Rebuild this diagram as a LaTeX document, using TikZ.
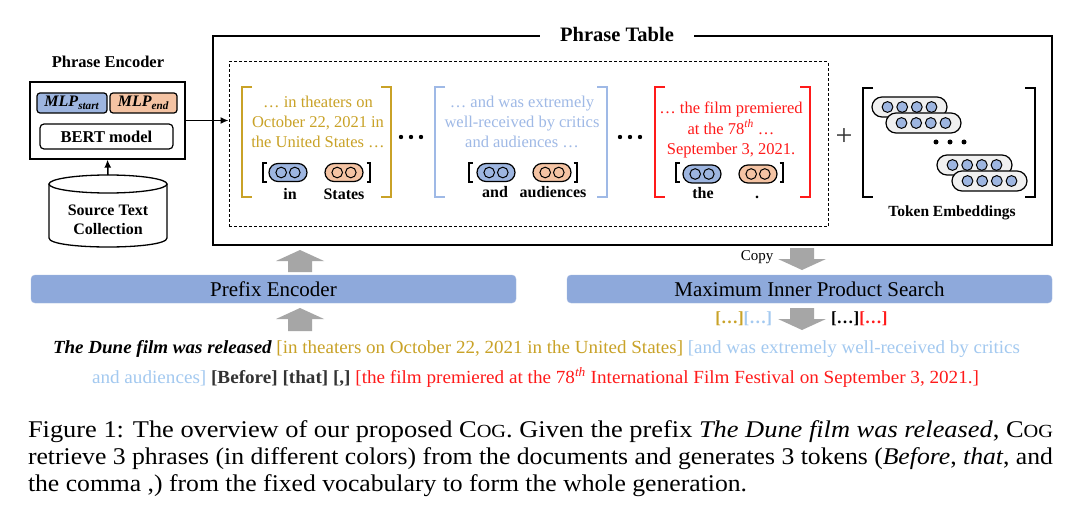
\documentclass[tikz,border=0pt]{standalone}
\usepackage{fontspec}
\setmainfont{Liberation Serif}
\usepackage{graphicx}
\usetikzlibrary{arrows.meta}
\definecolor{gold}{HTML}{C9A227}
\definecolor{lblue}{HTML}{A3C9F0}
\definecolor{bblue}{HTML}{9FB9E6}
\definecolor{barblue}{HTML}{8EA9DB}
\definecolor{pillblue}{HTML}{9DB5E0}
\definecolor{pillor}{HTML}{F4C3A3}
\definecolor{arrgray}{HTML}{A6A6A6}
\definecolor{tred}{HTML}{FF1A1A}
\definecolor{dgray}{HTML}{333333}
\newcommand\myfs[1]{\fontsize{#1}{#1}\selectfont}
\newcommand\smallcog{C{\fontsize{18.5}{18.5}\selectfont OG}}
\tikzset{
  txt/.style={inner sep=0pt, outer sep=0pt},
  blk/.style={draw=black, line width=1.3pt},
  rbox/.style={draw=black, line width=1.2pt, rounded corners=3pt, inner sep=0pt},
  pill/.style={draw=black, line width=1.2pt, rounded corners=9pt, minimum width=38pt, minimum height=18pt, inner sep=0pt},
  tpill/.style={draw=black, line width=1.2pt, fill=gray!12, rounded corners=10pt, minimum width=75pt, minimum height=20pt, inner sep=0pt},
  dotc/.style={draw=black, line width=1pt},
  bigbr/.style={line width=2.6pt},
  smbr/.style={line width=1.2pt, draw=black},
  arr/.style={-{Latex[length=8pt,width=7pt]}, line width=1.5pt},
  bar/.style={fill=barblue, draw=barblue!80!white, rounded corners=4pt, minimum width=485pt, minimum height=28pt, inner sep=0pt, font=\myfs{21}},
  gray arrow/.style={fill=arrgray, draw=none},
}
\newcommand\phrasepill[4]{% name, x, y, color
  \node[pill, fill=#4] (#1) at (#2,#3) {};
  \draw[dotc, fill=#4] (#2-6.8,#3) circle[radius=5.3];
  \draw[dotc, fill=#4] (#2+6.8,#3) circle[radius=5.3];
}
\newcommand\tokpill[3]{% name, x, y
  \node[tpill] (#1) at (#2,#3) {};
  \foreach \k in {-22,-7.3,7.3,22}{\draw[dotc, fill=pillblue] (#2+\k,#3) circle[radius=5.4];}
}
\newcommand\bigbracket[5]{% xl, xr, top, bottom, colour
  \draw[bigbr, draw=#5] (#1+10,#3) -- (#1,#3) -- (#1,#4) -- (#1+10,#4);
  \draw[bigbr, draw=#5] (#2-10,#3) -- (#2,#3) -- (#2,#4) -- (#2-10,#4);
}
\newcommand\smallbracket[2]{% xl, xr
  \draw[smbr] (#1+3.5,163) -- (#1,163) -- (#1,182) -- (#1+3.5,182);
  \draw[smbr] (#2-3.5,163) -- (#2,163) -- (#2,182) -- (#2-3.5,182);
}
\newcommand\grayup[3]{% x, tip y, base y
  \fill[gray arrow] (#1-12,#3) -- (#1-12,#2+11) -- (#1-24,#2+11) -- (#1,#2) -- (#1+24,#2+11) -- (#1+12,#2+11) -- (#1+12,#3) -- cycle;
}
\newcommand\graydown[3]{% x, top y, tip y
  \fill[gray arrow] (#1-12,#2) -- (#1-12,#3-11) -- (#1-24,#3-11) -- (#1,#3) -- (#1+24,#3-11) -- (#1+12,#3-11) -- (#1+12,#2) -- cycle;
}
\begin{document}
\begin{tikzpicture}[x=1pt, y=-1pt]
\useasboundingbox (0,0) rectangle (1080,516);
\fill[white] (0,0) rectangle (1080,516);

% ---------- Phrase encoder ----------
\node[txt, font=\myfs{16.5}\bfseries] (petitle) at (108,62) {Phrase Encoder};
\node[blk, minimum width=155pt, minimum height=77pt, inner sep=0pt] (pe) at (107.5,120.5) {};
\node[rbox, fill=pillblue, minimum width=70pt, minimum height=20pt] (mlps) at (72,103)
  {\myfs{16}\textbf{\textit{MLP}}\textsubscript{\textbf{\textit{start}}}};
\node[rbox, fill=pillor, minimum width=67pt, minimum height=20pt] (mlpe) at (143.5,103)
  {\myfs{16}\textbf{\textit{MLP}}\textsubscript{\textbf{\textit{end}}}};
\node[rbox, rounded corners=4pt, fill=white, minimum width=133pt, minimum height=25pt, font=\myfs{16.5}\bfseries] (bert) at (106.5,136.5) {BERT model};

% cylinder
\draw[blk, fill=white] (49,184) -- (49,238) .. controls (49,250) and (167,250) .. (167,238) -- (167,184);
\draw[blk] (108,184) ellipse [x radius=59, y radius=9];
\node[txt, align=center, font=\fontsize{16}{19.5}\selectfont\bfseries] (src) at (108,220) {Source Text\\Collection};
\coordinate (srctop) at (108,175);
\draw[arr] (srctop) -- (pe.south);

% ---------- Phrase table ----------
\node[draw=black, line width=1.5pt, minimum width=839pt, minimum height=209pt, inner sep=0pt] (pt) at (632.5,140.5) {};
\node[fill=white, inner xsep=20pt, inner ysep=2pt, font=\myfs{20.5}\bfseries] (pttitle) at (617,34) {Phrase Table};
\node[draw=black, line width=1pt, dash pattern=on 3pt off 2pt, minimum width=599pt, minimum height=165pt, inner sep=0pt] (dash) at (528.5,144.5) {};
\draw[arr] (pe.east) -- (pe.east -| dash.west);

% phrase 1 (gold)
\bigbracket{242}{391}{87}{197}{gold}
\node[txt, align=center, text=gold, font=\fontsize{16.5}{20}\selectfont] (ph1) at (318,122)
  {… in theaters on\\October 22, 2021 in\\the United States …};
\smallbracket{263}{370}
\phrasepill{p1s}{288}{172.5}{pillblue}
\phrasepill{p1e}{344}{172.5}{pillor}
\node[txt, anchor=base, font=\myfs{16}\bfseries] (l1s) at (290,199.5) {in};
\node[txt, anchor=base, font=\myfs{16}\bfseries] (l1e) at (344,199.5) {States};

% dots
\foreach \xx in {401,411,421}{\fill (\xx,137) circle[radius=2.2];}

% phrase 2 (blue)
\bigbracket{435}{607}{87}{197}{bblue}
\node[txt, align=center, text=bblue, font=\fontsize{16.5}{20}\selectfont] (ph2) at (522,122)
  {… and was extremely\\well-received by critics\\and audiences …};
\smallbracket{469}{577}
\phrasepill{p2s}{496}{172.5}{pillblue}
\phrasepill{p2e}{552}{172.5}{pillor}
\node[txt, anchor=base, font=\myfs{16}\bfseries] (l2s) at (495,198) {and};
\node[txt, anchor=base, font=\myfs{16}\bfseries] (l2e) at (553,198) {audiences};

\foreach \xx in {620,630,640}{\fill (\xx,137) circle[radius=2.2];}

% phrase 3 (red)
\bigbracket{655}{810}{87}{197}{tred}
\node[txt, align=center, text=tred, font=\fontsize{16.5}{20.5}\selectfont] (ph3) at (731,130)
  {… the film premiered\\at the 78\textsuperscript{\textit{th}} …\\September 3, 2021.};
\smallbracket{676}{783}
\phrasepill{p3s}{702}{174}{pillblue}
\phrasepill{p3e}{758}{174}{pillor}
\node[txt, anchor=base, font=\myfs{16}\bfseries] (l3s) at (703,198.5) {the};
\node[txt, anchor=base, font=\myfs{16}\bfseries] (l3e) at (757,198.5) {.};

% plus
\node[txt, text=dgray, font=\myfs{30}] (plus) at (844,137) {+};

% token embeddings
\bigbracket{863}{1035}{88}{197}{black}
\tokpill{t1}{909.5}{107}
\tokpill{t2}{923.5}{123}
\foreach \xx in {936,950,964}{\fill (\xx,142) circle[radius=2.5];}
\tokpill{t3}{974.5}{165}
\tokpill{t4}{989.5}{181}
\node[txt, font=\myfs{15.5}\bfseries] (tok) at (952,213) {Token Embeddings};

% ---------- bars and gray arrows ----------
\node[bar] (prefix) at (273.5,289) {Prefix Encoder};
\node[bar] (mips) at (809.5,289) {Maximum Inner Product Search};
\grayup{300}{250}{272}
\grayup{300}{308}{331}
\graydown{802}{248}{270}
\graydown{802}{308}{330}
\node[txt, font=\myfs{15}] (copy) at (757,257) {Copy};
\node[txt, anchor=east, font=\myfs{17}\bfseries] (mk1) at (772,319)
  {\textcolor{gold}{[…]}\textcolor{lblue}{[…]}};
\node[txt, anchor=west, font=\myfs{17}\bfseries] (mk2) at (831,319)
  {\textcolor{black}{[…]}\textcolor{tred}{[…]}};

% ---------- generated text ----------
\node[txt, anchor=base west, font=\myfs{18.5}] (gen1) at (53,353)
  {\resizebox{967pt}{\height}{{\bfseries\itshape The Dune film was released} \textcolor{gold}{[in theaters on October 22, 2021 in the United States]} \textcolor{lblue}{[and was extremely well-received by critics}}};
\node[txt, anchor=base west, font=\myfs{18.5}] (gen2) at (92,383)
  {\resizebox{887pt}{\height}{\textcolor{lblue}{and audiences]} \textcolor{dgray}{\bfseries [Before] [that] [,]} \textcolor{tred}{[the film premiered at the 78\textsuperscript{\textit{th}} International Film Festival on September 3, 2021.]}}};

% ---------- caption ----------
\node[txt, anchor=base west, font=\myfs{24}] (cap1) at (28,437)
  {\resizebox{1025pt}{\height}{Figure 1: The overview of our proposed \smallcog. Given the prefix \textit{The Dune film was released}, \smallcog}};
\node[txt, anchor=base west, font=\myfs{24}] (cap2) at (28,464)
  {\resizebox{1025pt}{\height}{retrieve 3 phrases (in different colors) from the documents and generates 3 tokens (\textit{Before}, \textit{that}, and}};
\node[txt, anchor=base west, font=\myfs{24}] (cap3) at (28,491)
  {\resizebox{719pt}{\height}{the comma ,) from the fixed vocabulary to form the whole generation.}};
\end{tikzpicture}
\end{document}
